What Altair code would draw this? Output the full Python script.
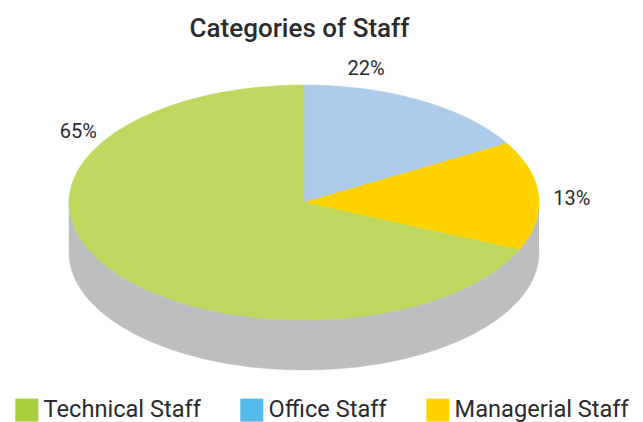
import math
import altair as alt
import pandas as pd

categories = ["Office Staff", "Managerial Staff", "Technical Staff"]
# Slice sizes as drawn in the picture (percent of the turn, clockwise from 12 o'clock)
drawn_shares = [16.6, 15.0, 68.4]
slice_colors = ["#ADCBEA", "#FFD300", "#BDD75F"]

legend_order = ["Technical Staff", "Office Staff", "Managerial Staff"]
legend_colors = ["#A6CE39", "#55B9EC", "#FFD300"]

label_texts = ["22%", "13%", "65%"]
label_x = [0.264, 1.140, -0.960]
label_y = [1.136, 0.034, 0.602]

DEPTH = 0.4255  # thickness of the disc in the units of the y scale
FONT = "Roboto"

rows = []
start = 0.0
for cat, share in zip(categories, drawn_shares):
    a0, a1 = start, start + share * 3.6
    steps = max(2, int(a1 - a0))
    rows.append({"cat": cat, "i": 0, "x": 0.0, "y": 0.0})
    for k in range(steps + 1):
        a = math.radians(a0 + (a1 - a0) * k / steps)
        rows.append({"cat": cat, "i": k + 1, "x": math.sin(a), "y": math.cos(a)})
    rows.append({"cat": cat, "i": steps + 2, "x": 0.0, "y": 0.0})
    start = a1
wedges = pd.DataFrame(rows)

rim = []
for d in range(90, 271):
    rim.append({"i": len(rim), "x": math.sin(math.radians(d)), "y": math.cos(math.radians(d))})
for d in range(270, 89, -1):
    rim.append({"i": len(rim), "x": math.sin(math.radians(d)), "y": math.cos(math.radians(d)) - DEPTH})
side = pd.DataFrame(rim)

labels = pd.DataFrame({"t": label_texts, "x": label_x, "y": label_y})
legend_df = pd.DataFrame({"cat": legend_order, "x": 0.0, "y": 0.0})

xs = alt.Scale(domain=[-1, 1], range=[61, 531])
ys = alt.Scale(domain=[-1, 1], range=[262, 27])
X = alt.X("x:Q", scale=xs, axis=None)
Y = alt.Y("y:Q", scale=ys, axis=None)

legend_layer = (
    alt.Chart(legend_df)
    .mark_point(filled=True, size=1, opacity=1)
    .encode(
        x=X,
        y=Y,
        color=alt.Color(
            "cat:N",
            sort=legend_order,
            scale=alt.Scale(domain=legend_order, range=legend_colors),
            legend=alt.Legend(
                title=None,
                orient="none",
                direction="horizontal",
                columns=3,
                legendX=7,
                legendY=340,
                symbolType="square",
                symbolSize=529,
                symbolStrokeWidth=0,
                symbolOpacity=1,
                labelFont=FONT,
                labelFontSize=23.6,
                labelColor="#2b2b2d",
                labelOffset=5,
                columnPadding=39,
                labelLimit=300,
                symbolOffset=0,
                padding=0,
            ),
        ),
    )
)

side_layer = (
    alt.Chart(side)
    .mark_line(fill="#BCBEC0", stroke="#BCBEC0", strokeWidth=0.5, interpolate="linear")
    .encode(x=X, y=Y, order=alt.Order("i:Q"))
)

wedge_layers = [
    alt.Chart(wedges)
    .transform_filter(alt.datum.cat == c)
    .mark_line(fill=col, stroke=col, strokeWidth=0.5, interpolate="linear")
    .encode(x=X, y=Y, order=alt.Order("i:Q"))
    for c, col in zip(categories, slice_colors)
]

label_layer = (
    alt.Chart(labels)
    .mark_text(font=FONT, fontSize=20, color="#2b2b2d", align="center", baseline="middle")
    .encode(x=X, y=Y, text="t:N")
)

chart = (
    alt.layer(legend_layer, side_layer, *wedge_layers, label_layer)
    .properties(
        width=627,
        height=364,
        padding={"left": 0, "top": 50, "right": 0, "bottom": 0},
        autosize=alt.AutoSizeParams(type="none"),
        title=alt.TitleParams(
            "Categories of Staff",
            font=FONT,
            fontSize=26,
            fontWeight=500,
            color="#2b2b2d",
            anchor="middle",
            dx=-22,
            offset=16,
        ),
    )
    .configure_view(stroke=None)
)

chart.save("out.html", embed_options={"renderer": "svg", "actions": False})
